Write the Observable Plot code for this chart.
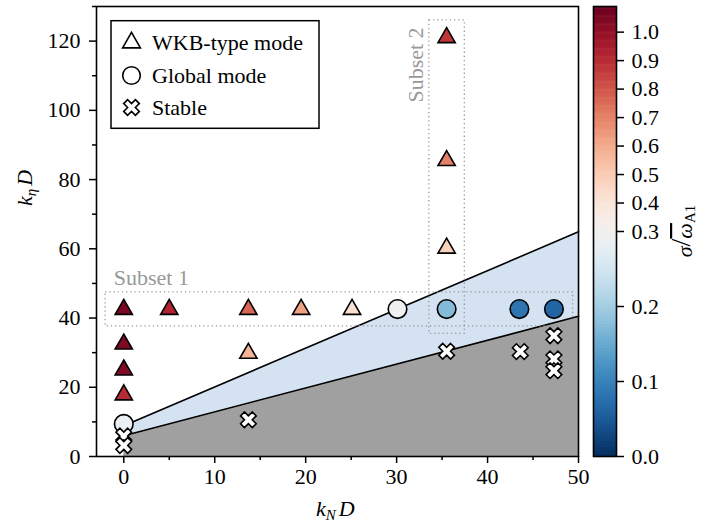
<!DOCTYPE html>
<html><head><meta charset="utf-8">
<script src="https://cdn.jsdelivr.net/npm/d3@7"></script>
<script src="https://cdn.jsdelivr.net/npm/@observablehq/plot@0.6"></script>
<style>
body{margin:0;background:#fff;}
#wrap{position:relative;width:718px;height:524px;font-family:"Liberation Serif","Times New Roman",Times,"DejaVu Serif",serif;}
#wrap svg{position:absolute;left:0;top:0;font-family:"Liberation Serif","Times New Roman",Times,"DejaVu Serif",serif !important;font-size:22px !important;}
#wrap svg text, #wrap svg tspan, #wrap svg g{font-family:"Liberation Serif","Times New Roman",Times,"DejaVu Serif",serif !important;}
</style></head><body><div id="wrap"></div>
<script>
// WKB-type modes (triangles)
const wkbX = [0, 5, 13.7, 19.5, 25.1, 0, 0, 0, 13.7, 35.5, 35.5, 35.5];
const wkbY = [42.5, 42.5, 42.5, 42.5, 42.5, 32.5, 25, 17.8, 29.8, 121, 85.5, 60.2];
const wkbSigma = [1.05, 0.92, 0.76, 0.62, 0.42, 1.04, 1.03, 0.9, 0.57, 0.87, 0.7, 0.48];
// Global modes (circles)
const globalX = [30.1, 35.5, 43.5, 47.3, 0];
const globalY = [42.6, 42.6, 42.6, 42.6, 9.4];
const globalSigma = [0.29, 0.17, 0.08, 0.06, 0.28];
// Stable (crosses)
const stableX = [0, 0, 13.7, 35.5, 43.6, 47.3, 47.3, 47.3];
const stableY = [5.9, 3.2, 10.6, 30.4, 30.3, 34.9, 28.2, 24.8];
// Boundaries
const boundaryX = [0, 50];
const lowerY = [6.0, 40.5];
const upperY = [8.9, 64.9];
// Subsets
const subsetNames = ["Subset 1", "Subset 2"];
const subsetX1 = [-2, 33.6];
const subsetX2 = [49.4, 37.5];
const subsetY1 = [37.6, 35.4];
const subsetY2 = [47.4, 126];
// Ticks
const xTicks = [0, 10, 20, 30, 40, 50];
const xMinor = [5, 15, 25, 35, 45];
const yTicks = [0, 20, 40, 60, 80, 100, 120];
const yMinor = [10, 30, 50, 70, 90, 110, 130];
const cbTicks = [0, 0.1, 0.2, 0.3, 0.4, 0.5, 0.6, 0.7, 0.8, 0.9, 1.0];
const cbMin = 0, cbCenter = 0.3, cbMax = 1.09;

const FONT = '"Liberation Serif", "Times New Roman", Times, "DejaVu Serif", serif';
const FS = 22;

const wkb = wkbX.map((x, i) => ({x, y: wkbY[i], s: wkbSigma[i]}));
const glob = globalX.map((x, i) => ({x, y: globalY[i], s: globalSigma[i]}));
const stable = stableX.map((x, i) => ({x, y: stableY[i]}));
const boundary = boundaryX.map((x, i) => ({x, lower: lowerY[i], upper: upperY[i]}));
const subsets = subsetNames.map((n, i) => ({n, x1: subsetX1[i], x2: subsetX2[i], y1: subsetY1[i], y2: subsetY2[i]}));

const colorScale = {type: "diverging", scheme: "RdBu", reverse: true, pivot: cbCenter, domain: [cbMin, cbMax], symmetric: false};

// matplotlib-like filled "X" marker
const xSymbol = {
  draw(ctx, size) {
    const r = Math.sqrt(size / Math.PI);
    const u = r / 3;
    const pts = [[-1,-3],[1,-3],[1,-1],[3,-1],[3,1],[1,1],[1,3],[-1,3],[-1,1],[-3,1],[-3,-1],[-1,-1]];
    const c = Math.SQRT1_2;
    pts.forEach(([px, py], i) => {
      const X = (px - py) * c * u, Y = (px + py) * c * u;
      if (i === 0) ctx.moveTo(X, Y); else ctx.lineTo(X, Y);
    });
    ctx.closePath();
  }
};

const main = Plot.plot({
  width: 718, height: 524,
  marginLeft: 96, marginRight: 140, marginTop: 6, marginBottom: 68,
  x: {domain: [-3, 50], label: null},
  y: {domain: [0, 130], label: null},
  color: colorScale,
  style: {fontFamily: FONT, fontSize: FS + "px", background: "white", color: "black"},
  marks: [
    Plot.areaY(boundary, {x: "x", y1: 0, y2: "lower", fill: "#a0a0a0"}),
    Plot.areaY(boundary, {x: "x", y1: "lower", y2: "upper", fill: "#d4e2f2"}),
    Plot.line(boundary, {x: "x", y: "lower", stroke: "black", strokeWidth: 1.6}),
    Plot.line(boundary, {x: "x", y: "upper", stroke: "black", strokeWidth: 1.6}),
    Plot.rect(subsets, {x1: "x1", x2: "x2", y1: "y1", y2: "y2", fill: "none", stroke: "#999", strokeWidth: 1.3, strokeDasharray: "1.3,2.9"}),
    Plot.text(subsets.slice(0, 1), {x: () => -1.1, y: () => 51.6, text: "n", textAnchor: "start", fill: "#999", fontSize: FS}),
    Plot.text(subsets.slice(1, 2), {x: () => 32.1, y: () => 113.1, text: "n", rotate: -90, textAnchor: "middle", fill: "#999", fontSize: FS}),
    Plot.dot(glob, {x: "x", y: "y", r: 9.3, fill: "s", stroke: "black", strokeWidth: 1.6}),
    Plot.dot(wkb, {x: "x", y: "y", r: 6.4, symbol: "triangle", fill: "s", stroke: "black", strokeWidth: 1.6}),
    Plot.dot(stable, {x: "x", y: "y", r: 8.3, symbol: xSymbol, fill: "white", stroke: "black", strokeWidth: 1.6}),
    Plot.axisX({ticks: xTicks, tickSize: 7, tickPadding: 5, strokeWidth: 1.5, tickFormat: d => String(d), label: null, fontSize: FS}),
    Plot.axisX({ticks: xMinor, tickSize: 4, strokeWidth: 1.5, tickFormat: () => "", label: null}),
    Plot.axisY({ticks: yTicks, tickSize: 7, tickPadding: 9, strokeWidth: 1.5, tickFormat: d => String(d), label: null, fontSize: FS}),
    Plot.axisY({ticks: yMinor, tickSize: 4, strokeWidth: 1.5, tickFormat: () => "", label: null}),
    Plot.frame({stroke: "black", strokeWidth: 1.6})
  ]
});

// colorbar (two-slope normalization: 0.3 sits at the middle)
const cbPos = v => v <= cbCenter ? 0.5 * (v - cbMin) / (cbCenter - cbMin) : 0.5 + 0.5 * (v - cbCenter) / (cbMax - cbCenter);
const cbTickPos = cbTicks.map(cbPos);
const step = 0.004;
const cbSteps = d3.range(cbMin, cbMax, step).map(v => ({v, p1: cbPos(v), p2: cbPos(Math.min(v + step * 1.5, cbMax))}));
const cbar = Plot.plot({
  width: 718, height: 524,
  marginLeft: 593, marginRight: 102, marginTop: 6, marginBottom: 68,
  x: {domain: [0, 1], axis: null},
  y: {domain: [0, 1], label: null},
  color: colorScale,
  style: {fontFamily: FONT, fontSize: FS + "px", background: "transparent", color: "black"},
  marks: [
    Plot.rect(cbSteps, {x1: 0, x2: 1, y1: "p1", y2: "p2", fill: "v"}),
    Plot.axisY({anchor: "right", ticks: cbTickPos, tickSize: 7, tickPadding: 8, strokeWidth: 1.5,
      tickFormat: p => d3.format(".1f")(cbTicks[cbTickPos.indexOf(p)]), label: null, fontSize: FS}),
    Plot.frame({stroke: "black", strokeWidth: 1.6})
  ]
});

const wrap = document.getElementById("wrap");
wrap.appendChild(main);
wrap.appendChild(cbar);
cbar.style.background = "transparent";

// axis labels
const svg = d3.select(main);
const xl = svg.append("text").attr("x", 316).attr("y", 516).attr("text-anchor", "start")
  .attr("font-family", FONT).attr("font-size", FS).attr("fill", "black");
xl.append("tspan").attr("font-style", "italic").text("k");
xl.append("tspan").attr("font-style", "italic").attr("font-size", 15).attr("dy", 4).text("N");
xl.append("tspan").attr("font-style", "italic").attr("dy", -4).attr("dx", 3).text("D");

const yl = svg.append("text").attr("transform", "translate(32,188) rotate(-90)").attr("text-anchor", "middle")
  .attr("font-family", FONT).attr("font-size", FS).attr("fill", "black");
yl.append("tspan").attr("font-style", "italic").text("k");
yl.append("tspan").attr("font-style", "italic").attr("font-size", 15).attr("dy", 4).text("η");
yl.append("tspan").attr("font-style", "italic").attr("dy", -4).attr("dx", 3).text("D");

const csvg = d3.select(cbar);
const cl = csvg.append("text").attr("transform", "translate(692,231) rotate(-90)").attr("text-anchor", "middle")
  .attr("font-family", FONT).attr("font-size", FS).attr("fill", "black");
cl.append("tspan").attr("font-style", "italic").text("σ");
cl.append("tspan").attr("font-size", 28).attr("dy", -2).text("/");
cl.append("tspan").attr("font-style", "italic").attr("dy", 2).style("text-decoration", "overline").text("ω");
cl.append("tspan").attr("font-size", 15).attr("dy", 3).text("A1");

// legend
const lg = svg.append("g");
lg.append("rect").attr("x", 111).attr("y", 20.7).attr("width", 208).attr("height", 107.6)
  .attr("fill", "white").attr("stroke", "black").attr("stroke-width", 1.5);
const legItems = [
  {label: "WKB-type mode", sym: d3.symbolTriangle, size: 6.6 * 6.6 * Math.PI, y: 42.7},
  {label: "Global mode", sym: d3.symbolCircle, size: 8.8 * 8.8 * Math.PI, y: 75.5},
  {label: "Stable", sym: xSymbol, size: 8.3 * 8.3 * Math.PI, y: 107.5}
];
legItems.forEach(it => {
  lg.append("path").attr("d", d3.symbol(it.sym, it.size)())
    .attr("transform", `translate(131.5,${it.y})`)
    .attr("fill", "white").attr("stroke", "black").attr("stroke-width", 1.6);
  lg.append("text").attr("x", 152).attr("y", it.y).attr("dy", "0.33em").attr("text-anchor", "start")
    .attr("font-family", FONT).attr("font-size", FS).attr("fill", "black").text(it.label);
});
</script></body></html>
